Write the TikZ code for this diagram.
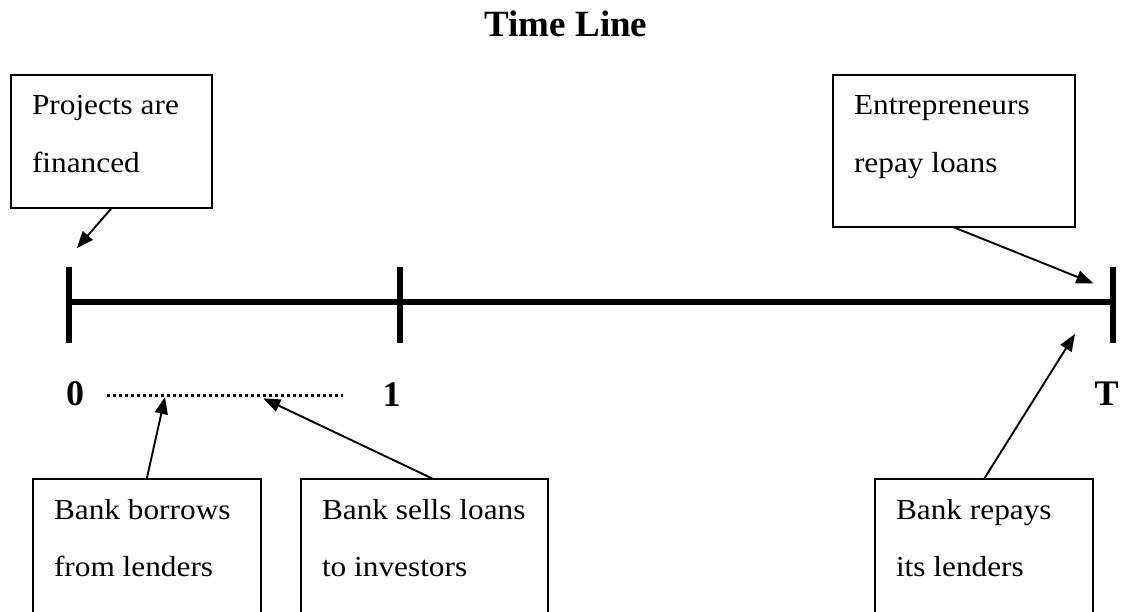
\documentclass[tikz,border=0pt]{standalone}
\usepackage{fontspec}
\setmainfont{Liberation Serif}
\newfontfamily\boxfont[FakeStretch=1.08]{Liberation Serif}
\usetikzlibrary{arrows.meta}
\newcommand\bxt[4]{\parbox[b][#2][t]{#1}{\boxfont\fontsize{29}{57.5}\selectfont\hspace*{21pt}\rule{0pt}{40pt}#3\par\hspace*{21pt}#4}}
\tikzset{
  txtbox/.style={draw, line width=1.3pt, inner sep=0pt, outer sep=0pt, anchor=north west, rectangle},
  conn/.style={line width=1.9pt, -{Triangle[length=17pt,width=13pt]}},
  axis/.style={line width=5.5pt},
  tickmark/.style={line width=5.5pt},
  lbl/.style={font=\bfseries\fontsize{36}{42}\selectfont, anchor=base, inner sep=0pt},
  dots/.style={line width=3pt, dash pattern=on 3pt off 3pt}
}
\begin{document}
\begin{tikzpicture}[x=1pt, y=-1pt]
\clip (0,0) rectangle (1132,612);
\fill[white] (0,0) rectangle (1132,612);
% title
\node[font=\bfseries\fontsize{37}{44}\selectfont, anchor=base, inner sep=0pt] (title) at (566,37) {Time Line};
% boxes
\node[txtbox] (proj) at (11,75) {\bxt{201pt}{133pt}{Projects are}{financed}};
\node[txtbox] (entr) at (833,75) {\bxt{242pt}{152pt}{Entrepreneurs}{repay loans}};
\node[txtbox] (borr) at (33,479) {\bxt{228pt}{150pt}{Bank borrows}{from lenders}};
\node[txtbox] (sell) at (301,479) {\bxt{247pt}{150pt}{Bank sells loans}{to investors}};
\node[txtbox] (repay) at (875,479) {\bxt{218pt}{150pt}{Bank repays}{its lenders}};
% time line
\coordinate (t0) at (69,302);
\coordinate (t1) at (400,302);
\coordinate (tT) at (1113,302);
\draw[axis] (t0) -- (tT);
\draw[tickmark] (69,267) -- (69,343);
\draw[tickmark] (400,267) -- (400,343);
\draw[tickmark] (1113,267) -- (1113,343);
% labels
\node[lbl] (l0) at (75,405) {0};
\node[lbl] (l1) at (391.5,406) {1};
\node[lbl] (lT) at (1106.5,405) {T};
% dotted interval
\coordinate (d0) at (107,395);
\coordinate (d1) at (343,395);
\draw[dots] (d0) -- (d1);
% arrow targets
\coordinate (aproj) at (76.7,248.3);
\coordinate (aentr) at (1093.3,283.3);
\coordinate (aborr) at (165,397);
\coordinate (asell) at (263.3,398.3);
\coordinate (arepay) at (1075,334);
% connectors
\draw[conn] ([xshift=100.7pt]proj.south west) -- (aproj);
\draw[conn] ([xshift=120pt]entr.south west) -- (aentr);
\draw[conn] ([xshift=113.7pt]borr.north west) -- (aborr);
\draw[conn] ([xshift=132.3pt]sell.north west) -- (asell);
\draw[conn] ([xshift=109pt]repay.north west) -- (arepay);
\end{tikzpicture}
\end{document}
